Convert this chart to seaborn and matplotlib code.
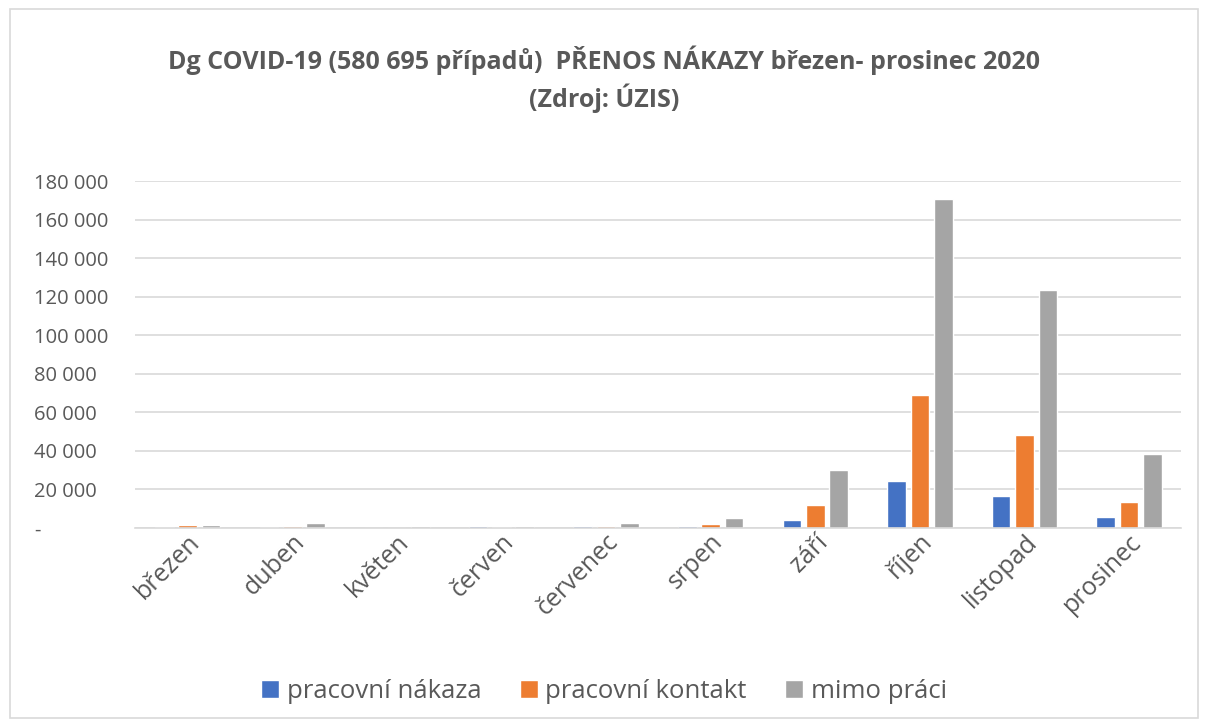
import matplotlib
matplotlib.use("Agg")
import matplotlib.pyplot as plt
import matplotlib.ticker as mticker
from matplotlib.patches import Rectangle
import pandas as pd
import seaborn as sns

# data (ÚZIS, březen - prosinec 2020)
months = ["březen", "duben", "květen", "červen", "červenec",
          "srpen", "září", "říjen", "listopad", "prosinec"]
pracovni_nakaza = [200, 300, 100, 900, 700, 900, 4000, 24200, 16600, 5400]
pracovni_kontakt = [1200, 900, 150, 300, 900, 2000, 11800, 68800, 48000, 13300]
mimo_praci = [1700, 2400, 800, 900, 2400, 5000, 29900, 170700, 123200, 38500]

series = ["pracovní nákaza", "pracovní kontakt", "mimo práci"]
colors = ["#4472C4", "#ED7D31", "#A5A5A5"]

df = pd.DataFrame({
    "Měsíc": months * 3,
    "Počet": pracovni_nakaza + pracovni_kontakt + mimo_praci,
    "Přenos": [s for s in series for _ in months],
})

sns.set_theme(style="white")
plt.rcParams["font.family"] = ["Open Sans", "DejaVu Sans"]

fig = plt.figure(figsize=(12.08, 7.27), dpi=100)
ax = fig.add_axes([0.112, 0.274, 0.866, 0.477])

sns.barplot(data=df, x="Měsíc", y="Počet", hue="Přenos", order=months,
            hue_order=series, palette=colors, width=0.67, gap=0.2,
            saturation=1, ax=ax)

ax.set_ylim(0, 180000)
ax.yaxis.set_major_locator(mticker.MultipleLocator(20000))
ax.yaxis.set_major_formatter(mticker.FuncFormatter(
    lambda v, p: "-" if v == 0 else f"{int(v):,}".replace(",", " ")))
ax.grid(axis="y", color="#D9D9D9", linewidth=1.2)
ax.set_axisbelow(True)
for s in ["top", "right", "left"]:
    ax.spines[s].set_visible(False)
ax.spines["bottom"].set_color("#D9D9D9")
ax.spines["bottom"].set_linewidth(1.2)
ax.set_xlabel("")
ax.set_ylabel("")
ax.tick_params(axis="y", labelsize=14.5, labelcolor="#595959", length=0, pad=73)
ax.tick_params(axis="x", labelsize=18, labelcolor="#595959", length=0, pad=1)
plt.setp(ax.get_xticklabels(), rotation=45, ha="right", rotation_mode="anchor")
for lbl in ax.get_yticklabels():
    lbl.set_horizontalalignment("left")

ax.legend(loc="lower center", bbox_to_anchor=(0.5, 0.0), bbox_transform=fig.transFigure,
          ncol=3, frameon=False, fontsize=18.5, handlelength=0.7, handleheight=0.7,
          handletextpad=0.3, columnspacing=1.5, labelcolor="#595959")

fig.suptitle("Dg COVID-19 (580 695 případů)  PŘENOS NÁKAZY březen- prosinec 2020\n(Zdroj: ÚZIS)",
             y=0.937, fontsize=18, fontweight="bold", color="#595959", linespacing=1.35)

fig.patches.append(Rectangle((0.008, 0.013), 0.984, 0.974, transform=fig.transFigure,
                             fill=False, edgecolor="#D9D9D9", linewidth=1.2))

fig.savefig("out.png", dpi=100)
